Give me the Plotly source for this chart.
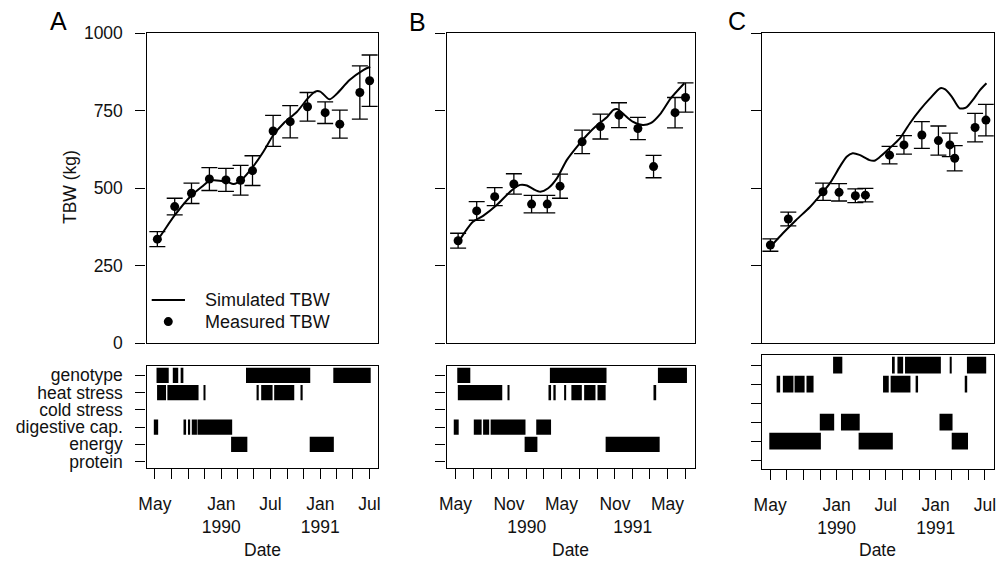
import plotly.graph_objects as go
import pandas as pd

# ---------------- data ----------------
factors = ["protein", "energy", "digestive cap.", "cold stress", "heat stress", "genotype"]

meas_dates_AB = ["1989-05-10", "1989-07-13", "1989-09-13", "1989-11-18", "1990-01-18", "1990-03-13",
                 "1990-04-26", "1990-07-11", "1990-09-12", "1990-11-15", "1991-01-19", "1991-03-14",
                 "1991-05-27", "1991-07-02"]
meas_A = [335, 440, 483, 529, 526, 525, 556, 684, 714, 762, 743, 706, 808, 846]
err_A = [24, 27, 33, 37, 37, 48, 48, 50, 52, 46, 35, 45, 86, 83]
meas_B = [330, 426, 472, 513, 448, 448, 506, 649, 698, 735, 692, 569, 743, 792]
err_B = [24, 30, 29, 33, 28, 28, 39, 38, 40, 40, 36, 36, 49, 47]
meas_dates_C = ["1989-05-02", "1989-07-07", "1989-11-12", "1990-01-10", "1990-03-11", "1990-04-17",
                "1990-07-15", "1990-09-06", "1990-11-11", "1991-01-11", "1991-02-22", "1991-03-12",
                "1991-05-26", "1991-07-05"]
meas_C = [316, 400, 488, 486, 475, 477, 606, 639, 671, 653, 639, 596, 695, 719]
err_C = [20, 22, 28, 28, 22, 22, 28, 30, 43, 47, 38, 41, 46, 51]

sim_dates_A = ["1989-05-11", "1989-06-01", "1989-07-14", "1989-09-08", "1989-10-21", "1989-11-21",
               "1990-01-22", "1990-02-15", "1990-03-16", "1990-04-28", "1990-06-05", "1990-07-12",
               "1990-08-19", "1990-10-07", "1990-11-16", "1990-12-13", "1991-01-01", "1991-02-04",
               "1991-03-02", "1991-04-19", "1991-06-10", "1991-07-04"]
sim_A = [332, 359, 413, 472, 504, 524, 520, 513, 526, 569, 617, 671, 709, 746, 789, 811, 811, 786,
         803, 848, 881, 891]
sim_dates_B = ["1989-05-12", "1989-06-07", "1989-06-30", "1989-08-04", "1989-09-20", "1989-11-11",
               "1989-12-10", "1990-01-02", "1990-01-25", "1990-02-17", "1990-03-16", "1990-04-15",
               "1990-05-19", "1990-06-23", "1990-07-28", "1990-09-01", "1990-10-06", "1990-10-27",
               "1990-11-10", "1990-12-03", "1991-01-01", "1991-02-05", "1991-03-04", "1991-04-08",
               "1991-05-12", "1991-06-28"]
sim_B = [327, 364, 391, 410, 445, 493, 510, 508, 496, 488, 499, 531, 590, 633, 671, 703, 730, 752,
         754, 736, 714, 703, 709, 741, 789, 838]
sim_dates_C = ["1989-05-05", "1989-06-17", "1989-08-05", "1989-09-24", "1989-10-30", "1989-12-07",
               "1990-01-13", "1990-02-07", "1990-03-01", "1990-03-26", "1990-05-02", "1990-05-20",
               "1990-06-08", "1990-07-15", "1990-08-22", "1990-09-28", "1990-11-04", "1990-12-11",
               "1991-01-18", "1991-02-05", "1991-03-01", "1991-03-30", "1991-04-24", "1991-05-18",
               "1991-06-13", "1991-07-07"]
sim_C = [313, 354, 397, 438, 474, 515, 569, 601, 612, 607, 590, 588, 599, 628, 660, 709, 752, 789,
         822, 818, 795, 757, 760, 784, 816, 838]

# limiting-factor periods (start, end)
limits_A = {
    "genotype": [("1989-05-07", "1989-06-21"), ("1989-07-06", "1989-07-26"), ("1989-08-04", "1989-08-14"),
                 ("1990-04-02", "1990-11-25"), ("1991-02-18", "1991-07-06")],
    "heat stress": [("1989-05-09", "1989-06-11"), ("1989-06-16", "1989-10-09"), ("1989-10-28", "1989-11-03"),
                    ("1990-05-11", "1990-05-19"), ("1990-05-28", "1990-07-09"), ("1990-07-15", "1990-09-27"),
                    ("1990-10-22", "1990-10-28")],
    "digestive cap.": [("1989-04-27", "1989-05-13"), ("1989-08-18", "1989-08-24"), ("1989-08-31", "1989-09-08"),
                       ("1989-09-14", "1989-10-03"), ("1989-10-05", "1990-02-10")],
    "energy": [("1990-02-06", "1990-04-07"), ("1990-11-23", "1991-02-20")],
}
limits_B = {
    "genotype": [("1989-05-07", "1989-06-21"), ("1990-03-22", "1990-10-03"), ("1991-03-29", "1991-07-07")],
    "heat stress": [("1989-05-09", "1989-10-09"), ("1989-10-28", "1989-11-03"), ("1990-03-20", "1990-03-26"),
                    ("1990-04-03", "1990-04-11"), ("1990-05-10", "1990-05-17"), ("1990-06-04", "1990-07-10"),
                    ("1990-07-18", "1990-08-26"), ("1990-09-02", "1990-09-30"), ("1991-03-17", "1991-03-23")],
    "digestive cap.": [("1989-04-25", "1989-05-12"), ("1989-07-03", "1989-07-30"), ("1989-08-04", "1989-08-25"),
                       ("1989-08-30", "1989-12-28"), ("1990-02-03", "1990-03-26")],
    "energy": [("1989-12-25", "1990-02-07"), ("1990-09-30", "1991-04-04")],
}
limits_C = {
    "genotype": [("1989-12-19", "1990-01-22"), ("1990-07-24", "1990-08-03"), ("1990-08-13", "1990-09-03"),
                 ("1990-09-10", "1991-01-20"), ("1991-02-24", "1991-03-01"), ("1991-04-26", "1991-07-06")],
    "heat stress": [("1989-05-25", "1989-06-07"), ("1989-06-17", "1989-07-26"), ("1989-07-30", "1989-09-05"),
                    ("1989-09-12", "1989-10-08"), ("1990-06-21", "1990-07-12"), ("1990-07-19", "1990-09-30"),
                    ("1990-10-19", "1990-10-28"), ("1991-04-18", "1991-04-27")],
    "digestive cap.": [("1989-10-31", "1989-12-23"), ("1990-01-17", "1990-03-27"), ("1991-01-15", "1991-03-04")],
    "energy": [("1989-04-28", "1989-11-04"), ("1990-03-23", "1990-07-27"), ("1991-03-01", "1991-04-30")],
}

tick_dates = ["1989-05-01", "1989-07-01", "1989-09-01", "1989-11-01", "1990-01-01", "1990-03-01",
              "1990-05-01", "1990-07-01", "1990-09-01", "1990-11-01", "1991-01-01", "1991-03-01",
              "1991-05-01", "1991-07-01"]
ticktext_AC = ["May", "", "", "", "Jan<br>1990", "", "", "Jul", "", "", "Jan<br>1991", "", "", "Jul"]
ticktext_B = ["May", "", "", "Nov", "\u00a0<br>1990", "", "May", "", "", "Nov", "\u00a0<br>1991", "", "May", ""]

# ---------------- figure ----------------
FONT = "Liberation Sans, Arial, sans-serif"
FS = 17.5
W, H = 999, 563
xrange_ = ["1989-03-31", "1991-08-03"]

fig = go.Figure()


def px_x(a, b):
    return [a / W, b / W]


def px_y(top, bot):
    return [1 - bot / H, 1 - top / H]


def pp(x, y):
    return x / W, 1 - y / H


panels = [
    dict(k="", kb="4", meas_d=meas_dates_AB, meas=meas_A, err=err_A, sim_d=sim_dates_A, sim=sim_A, lim=limits_A),
    dict(k="2", kb="5", meas_d=meas_dates_AB, meas=meas_B, err=err_B, sim_d=sim_dates_B, sim=sim_B, lim=limits_B),
    dict(k="3", kb="6", meas_d=meas_dates_C, meas=meas_C, err=err_C, sim_d=sim_dates_C, sim=sim_C, lim=limits_C),
]

for p in panels:
    xa, ya = "x" + p["k"], "y" + p["k"]
    fig.add_trace(go.Scatter(x=p["sim_d"], y=p["sim"], mode="lines", xaxis=xa, yaxis=ya,
                             line=dict(color="black", width=2, shape="spline", smoothing=0.7),
                             showlegend=False, hoverinfo="skip"))
    fig.add_trace(go.Scatter(x=p["meas_d"], y=p["meas"], mode="markers", xaxis=xa, yaxis=ya,
                             marker=dict(color="black", size=9),
                             error_y=dict(type="data", array=p["err"], color="black", thickness=1.3, width=8),
                             showlegend=False))
    starts, durs, ys = [], [], []
    for f, ivs in p["lim"].items():
        for s, e in ivs:
            starts.append(s)
            durs.append((pd.Timestamp(e) - pd.Timestamp(s)).total_seconds() * 1000)
            ys.append(factors.index(f) + 1)
    fig.add_trace(go.Bar(orientation="h", base=starts, x=durs, y=ys, width=0.88,
                         marker=dict(color="black", line=dict(width=0)),
                         xaxis="x" + p["kb"], yaxis="y" + p["kb"], showlegend=False))

axis_common = dict(showline=True, mirror=True, linecolor="black", linewidth=1.3, automargin=False,
                   showgrid=False, zeroline=False, ticks="outside", tickcolor="black",
                   tickwidth=1.3, ticklen=10, tickangle=0,
                   tickfont=dict(family=FONT, size=FS, color="#111"))

top_x = [(146.5, 378.3), (446.5, 694.8), (761.7, 993.8)]
bot_y = [(365.8, 468.3), (365.8, 468.3), (355.0, 469.0)]
bot_yr = [[0.61, 6.55], [0.61, 6.55], [0.53, 6.53]]
suff = ["", "2", "3"]
suffb = ["4", "5", "6"]
for i in range(3):
    dom_x = px_x(*top_x[i])
    fig.layout["xaxis" + suff[i]] = dict(axis_common, domain=dom_x, type="date", range=xrange_,
                                         ticks="", showticklabels=False, anchor="y" + suff[i])
    fig.layout["yaxis" + suff[i]] = dict(axis_common, domain=px_y(33, 343), range=[0, 1000],
                                         tickvals=[0, 250, 500, 750, 1000], showticklabels=(i == 0),
                                         ticklabelstandoff=9, anchor="x" + suff[i])
    fig.layout["xaxis" + suffb[i]] = dict(axis_common, domain=dom_x, type="date", range=xrange_,
                                          tickvals=tick_dates, ticktext=(ticktext_B if i == 1 else ticktext_AC),
                                          ticklabelstandoff=10, anchor="y" + suffb[i])
    fig.layout["yaxis" + suffb[i]] = dict(axis_common, domain=px_y(*bot_y[i]), range=bot_yr[i],
                                          tickvals=[1, 2, 3, 4, 5, 6], ticktext=factors,
                                          showticklabels=(i == 0), ticklabelstandoff=9,
                                          anchor="x" + suffb[i])

annots = []
for lab, x, y in [("A", 58.5, 21), ("B", 417, 22), ("C", 737, 21)]:
    ax_, ay_ = pp(x, y)
    annots.append(dict(text=lab, x=ax_, y=ay_, xref="paper", yref="paper", showarrow=False,
                       xanchor="center", yanchor="middle", font=dict(family=FONT, size=25, color="black")))
tx, ty = pp(70, 187)
annots.append(dict(text="TBW (kg)", x=tx, y=ty, xref="paper", yref="paper", showarrow=False,
                   textangle=-90, xanchor="center", yanchor="middle",
                   font=dict(family=FONT, size=FS, color="#111")))
for i in range(3):
    cx = (top_x[i][0] + top_x[i][1]) / 2
    dx, dy = pp(cx, 550)
    annots.append(dict(text="Date", x=dx, y=dy, xref="paper", yref="paper", showarrow=False,
                       xanchor="center", yanchor="middle", font=dict(family=FONT, size=FS, color="#111")))
# legend in panel A
annots.append(dict(text="Simulated TBW", x=0.243, y=0.139, xref="x domain", yref="y domain", showarrow=False,
                   xanchor="left", yanchor="middle", font=dict(family=FONT, size=18, color="#111")))
annots.append(dict(text="Measured TBW", x=0.243, y=0.069, xref="x domain", yref="y domain", showarrow=False,
                   xanchor="left", yanchor="middle", font=dict(family=FONT, size=18, color="#111")))

shapes = [
    dict(type="line", xref="x domain", yref="y domain", x0=0.0225, x1=0.166, y0=0.139, y1=0.139,
         line=dict(color="black", width=2)),
    dict(type="circle", xref="x domain", yref="y domain", xsizemode="pixel", ysizemode="pixel",
         xanchor=0.094, yanchor=0.069, x0=-4.5, x1=4.5, y0=-4.5, y1=4.5,
         fillcolor="black", line=dict(color="black", width=0)),
]

fig.update_layout(width=W, height=H, margin=dict(l=0, r=0, t=0, b=0),
                  paper_bgcolor="white", plot_bgcolor="white", showlegend=False,
                  annotations=annots, shapes=shapes, barmode="overlay",
                  font=dict(family=FONT, size=FS, color="#111"))

fig.write_html("out.html", config={"displayModeBar": False},
               post_script="document.body.style.margin='0';document.body.style.overflow='hidden';")
